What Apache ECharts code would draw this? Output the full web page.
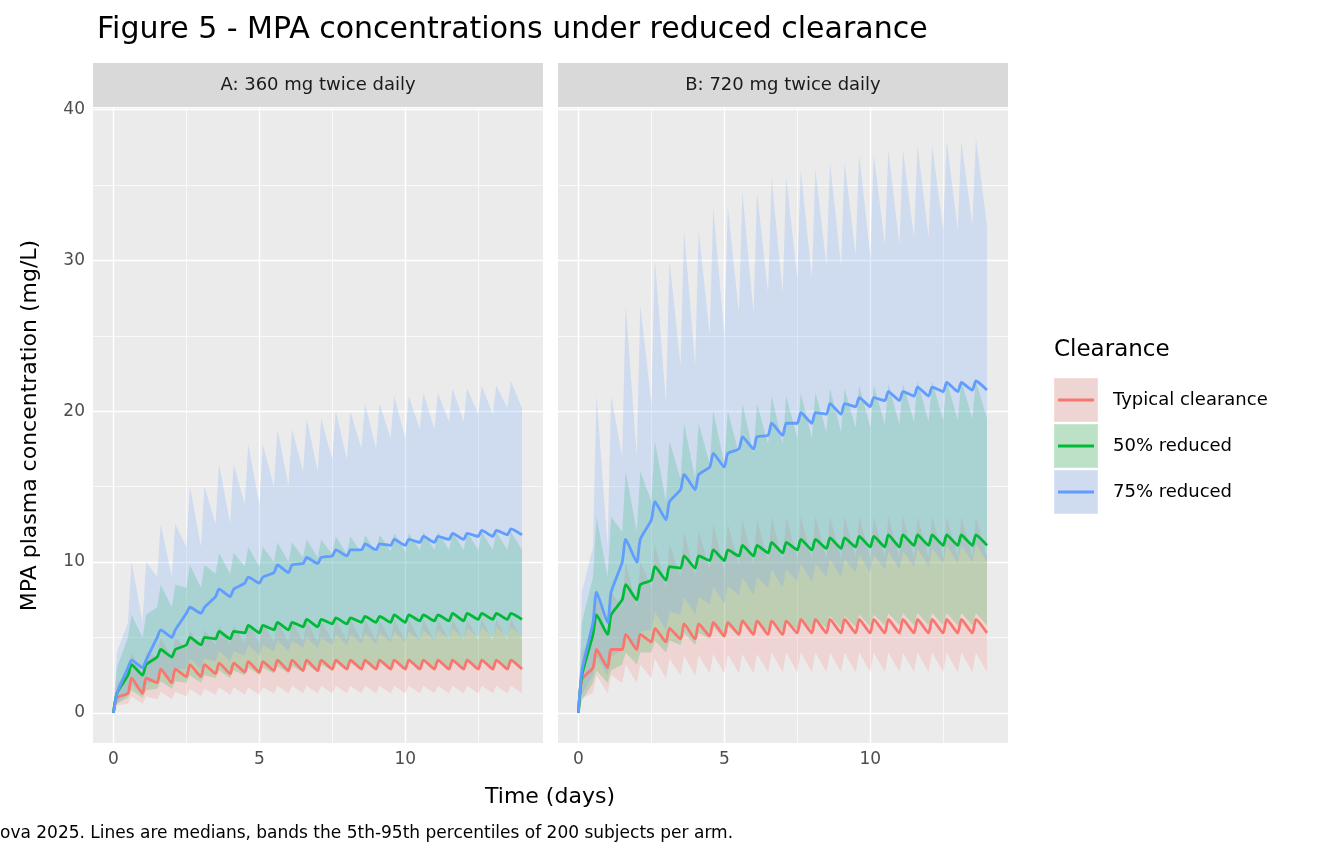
<!DOCTYPE html>
<html>
<head>
<meta charset="utf-8">
<title>Figure 5</title>
<script src="https://cdn.jsdelivr.net/npm/echarts@6/dist/echarts.min.js"></script>
</head>
<body style="margin:0">
<div id="main" style="width:1344px;height:864px;"></div>
<script>
// per-day values (day 0..14): troughs (pre-dose) and post-dose peaks
var groups = ['Typical clearance', '50% reduced', '75% reduced'];
var colors = ['#F8766D', '#00BA38', '#619CFF'];
var fills = ['rgba(248,118,109,0.2)', 'rgba(0,186,56,0.2)', 'rgba(97,156,255,0.2)'];
var panels = ['A: 360 mg twice daily', 'B: 720 mg twice daily'];

// Panel A
var aTypMedT = [0,1.3,2.0,2.4,2.6,2.7,2.8,2.8,2.9,2.9,2.9,2.9,2.9,2.9,2.9];
var aTypMedP = [1.0,2.3,2.9,3.2,3.3,3.4,3.5,3.5,3.5,3.5,3.5,3.5,3.5,3.5,3.5];
var aTypLoT = [0,0.6,0.9,1.1,1.2,1.2,1.3,1.3,1.3,1.3,1.3,1.3,1.3,1.3,1.3];
var aTypLoP = [0.5,1.1,1.4,1.6,1.7,1.7,1.8,1.8,1.8,1.8,1.8,1.8,1.8,1.8,1.8];
var aTypHiT = [0,2.5,3.7,4.2,4.5,4.6,4.7,4.7,4.8,4.8,4.8,4.8,4.8,4.8,4.8];
var aTypHiP = [2.0,4.0,5.0,5.5,5.8,6.0,6.1,6.1,6.2,6.2,6.2,6.2,6.2,6.2,6.2];

var a50MedT = [0,2.5,3.7,4.5,4.9,5.3,5.5,5.7,5.9,6.0,6.0,6.1,6.1,6.2,6.2];
var a50MedP = [1.3,3.2,4.2,5.0,5.4,5.8,6.0,6.2,6.3,6.4,6.5,6.5,6.6,6.6,6.6];
var a50LoT = [0,1.0,1.6,2.0,2.3,2.5,2.6,2.7,2.8,2.8,2.9,2.9,2.9,2.9,2.9];
var a50LoP = [0.6,1.5,2.1,2.5,2.8,3.0,3.1,3.2,3.3,3.3,3.4,3.4,3.4,3.4,3.4];
var a50HiT = [0,5,7,8.3,9.2,9.7,10.0,10.3,10.5,10.6,10.7,10.8,10.8,10.8,10.8];
var a50HiP = [3,6.5,8.5,9.8,10.6,11.0,11.3,11.5,11.7,11.8,11.9,12,12,12,12];

var a75MedT = [0,3.0,5.0,6.6,7.7,8.6,9.3,9.9,10.4,10.8,11.1,11.3,11.5,11.7,11.8];
var a75MedP = [1.3,3.5,5.5,7.0,8.2,9.0,9.8,10.3,10.8,11.2,11.5,11.7,11.9,12.1,12.2];
var a75LoT = [0,1.2,2.2,2.9,3.4,3.8,4.1,4.3,4.5,4.6,4.7,4.8,4.9,5,5];
var a75LoP = [0.7,1.9,2.9,3.6,4.1,4.5,4.8,5.0,5.2,5.3,5.4,5.5,5.6,5.7,5.7];
var a75HiT = [0,6,9,11,12.5,13.8,15,16,16.8,17.5,18.2,18.8,19.3,19.8,20.2];
var a75HiP = [4,10,12.5,15,16.5,17.8,18.8,19.5,20.0,20.5,21,21.2,21.5,21.7,22];

// Panel B
var bTypMedT = [0,3.0,4.2,4.7,4.9,5.1,5.2,5.2,5.3,5.3,5.3,5.3,5.3,5.3,5.3];
var bTypMedP = [2.2,4.2,5.2,5.6,5.9,6.0,6.1,6.1,6.2,6.2,6.2,6.2,6.2,6.2,6.2];
var bTypLoT = [0,1.3,2.0,2.3,2.5,2.6,2.6,2.7,2.7,2.7,2.7,2.7,2.7,2.7,2.7];
var bTypLoP = [1.0,2.5,3.2,3.6,3.8,3.9,3.9,4.0,4.0,4.0,4.0,4.0,4.0,4.0,4.0];
var bTypHiT = [0,5,7,8.3,9,9.5,9.8,10,10.2,10.2,10.3,10.3,10.3,10.3,10.3];
var bTypHiP = [4,8,10,11.2,12,12.5,12.8,13,13,13,13,13,13,13,13];

var b50MedT = [0,5.2,7.5,8.8,9.6,10.1,10.4,10.6,10.8,10.9,11.0,11.0,11.1,11.1,11.1];
var b50MedP = [2.5,6.5,8.5,9.7,10.4,10.8,11.1,11.3,11.5,11.6,11.7,11.8,11.8,11.8,11.8];
var b50LoT = [0,2,3.2,4,4.5,4.9,5.2,5.4,5.5,5.6,5.7,5.8,5.8,5.8,5.8];
var b50LoP = [0.8,2.8,4.0,4.8,5.3,5.7,6.0,6.2,6.3,6.4,6.5,6.6,6.6,6.6,6.6];
var b50HiT = [0,9,12,14,15.5,16.5,17.2,17.8,18.2,18.6,18.9,19.1,19.3,19.4,19.5];
var b50HiP = [6,13,16,18,19.2,20,20.5,21,21.2,21.5,21.7,21.8,22,22,22];

var b75MedT = [0,6,10,12.8,14.8,16.3,17.5,18.4,19.2,19.8,20.3,20.7,21.0,21.3,21.4];
var b75MedP = [2.8,8,11.5,14,15.8,17.2,18.3,19.2,19.9,20.5,20.9,21.3,21.6,21.9,22.0];
var b75LoT = [0,2.5,4.2,5.5,6.5,7.2,7.8,8.3,8.7,9,9.3,9.5,9.7,9.9,10];
var b75LoP = [1.2,3.7,5.4,6.7,7.7,8.4,9.0,9.5,9.9,10.2,10.5,10.7,10.9,11.1,11.2];
var b75HiT = [0,11,17,20.5,23,25,26.5,27.8,28.8,29.6,30.3,31,31.5,32,32.3];
var b75HiP = [8,21,27,30,32,33.5,34.5,35.5,36,36.5,37,37.3,37.6,37.9,38.1];

// doses every 0.5 day; peak shortly after dose, trough just before next dose
function profile(tr, pk) {
    var pts = [[0, tr[0]]];
    for (var k = 0; k < 28; k++) {
        var t = k * 0.5;
        pts.push([t + 0.12, pk[Math.min(14, Math.ceil(t))]]);
        var tn = (k + 1) * 0.5;
        pts.push([tn, tr[Math.min(14, Math.ceil(tn))]]);
    }
    return pts;
}
function band(loT, loP, hiT, hiP) {
    var lo = profile(loT, loP), hi = profile(hiT, hiP);
    return lo.map(function (p, i) { return [p[0], p[1], hi[i][1]]; });
}

var panelData = [
    {
        med: [profile(aTypMedT, aTypMedP), profile(a50MedT, a50MedP), profile(a75MedT, a75MedP)],
        band: [band(aTypLoT, aTypLoP, aTypHiT, aTypHiP), band(a50LoT, a50LoP, a50HiT, a50HiP), band(a75LoT, a75LoP, a75HiT, a75HiP)]
    },
    {
        med: [profile(bTypMedT, bTypMedP), profile(b50MedT, b50MedP), profile(b75MedT, b75MedP)],
        band: [band(bTypLoT, bTypLoP, bTypHiT, bTypHiP), band(b50LoT, b50LoP, b50HiT, b50HiP), band(b75LoT, b75LoP, b75HiT, b75HiP)]
    }
];

var gridLeft = [93, 558], gridW = 450;
var txt = '#4D4D4D';
var font = 'DejaVu Sans';

var grids = [], xAxes = [], yAxes = [], series = [], graphics = [];
for (var p = 0; p < 2; p++) {
    grids.push({left: gridLeft[p], width: gridW, top: 108, height: 635, show: true,
        backgroundColor: '#EBEBEB', borderWidth: 0});
    xAxes.push({type: 'value', gridIndex: p, min: -0.7, max: 14.72,
        splitLine: {show: false}, axisLine: {show: false},
        axisTick: {show: true, length: 4, lineStyle: {color: '#333'}, customValues: [0, 5, 10]},
        axisLabel: {color: txt, fontSize: 17, fontFamily: font, margin: 8, customValues: [0, 5, 10]}});
    yAxes.push({type: 'value', gridIndex: p, min: -2, max: 40.1,
        splitLine: {show: false}, axisLine: {show: false},
        axisTick: {show: p === 0, length: 4, lineStyle: {color: '#333'}, customValues: [0, 10, 20, 30, 40]},
        axisLabel: {show: p === 0, color: txt, fontSize: 17, fontFamily: font, customValues: [0, 10, 20, 30, 40]},
        name: p === 0 ? 'MPA plasma concentration (mg/L)' : '', nameLocation: 'middle', nameGap: 52,
        nameTextStyle: {fontSize: 22, color: '#000', fontFamily: font}});

    var major = {lineStyle: {color: '#fff', width: 1.4, type: 'solid'}};
    var minor = {lineStyle: {color: '#fff', width: 0.7, type: 'solid'}};
    var ml = [];
    [0, 5, 10].forEach(function (v) { ml.push(Object.assign({xAxis: v}, major)); });
    [2.5, 7.5, 12.5].forEach(function (v) { ml.push(Object.assign({xAxis: v}, minor)); });
    [0, 10, 20, 30, 40].forEach(function (v) { ml.push(Object.assign({yAxis: v}, major)); });
    [5, 15, 25, 35].forEach(function (v) { ml.push(Object.assign({yAxis: v}, minor)); });

    for (var g = 0; g < 3; g++) {
        (function (pts, fill, first) {
            series.push({
                type: 'custom', xAxisIndex: p, yAxisIndex: p, silent: true, z: 2,
                data: pts, encode: {x: 0, y: [1, 2]},
                renderItem: function (params, api) {
                    if (params.dataIndex !== 0) return;
                    var poly = [];
                    pts.forEach(function (d) { poly.push(api.coord([d[0], d[1]])); });
                    for (var i = pts.length - 1; i >= 0; i--) poly.push(api.coord([pts[i][0], pts[i][2]]));
                    return {type: 'polygon', shape: {points: poly}, style: {fill: fill}};
                },
                markLine: first ? {silent: true, symbol: 'none', label: {show: false}, data: ml, z: 1} : undefined
            });
        })(panelData[p].band[g], fills[g], g === 0);
    }
    for (var g2 = 0; g2 < 3; g2++) {
        series.push({type: 'line', xAxisIndex: p, yAxisIndex: p, showSymbol: false, z: 3, smooth: 0.2,
            data: panelData[p].med[g2], lineStyle: {color: colors[g2], width: 2.8}, itemStyle: {color: colors[g2]}});
    }
    graphics.push({type: 'rect', shape: {x: gridLeft[p], y: 63, width: gridW, height: 44}, style: {fill: '#D9D9D9'}});
    graphics.push({type: 'text', x: gridLeft[p] + gridW / 2, y: 85,
        style: {text: panels[p], fill: '#1A1A1A', fontSize: 18, fontFamily: font, align: 'center', verticalAlign: 'middle'}});
}

graphics.push({type: 'text', x: 550, y: 797, style: {text: 'Time (days)', fill: '#000', fontSize: 22, fontFamily: font, align: 'center', verticalAlign: 'middle'}});
graphics.push({type: 'text', x: 0, y: 834, style: {text: 'ova 2025. Lines are medians, bands the 5th-95th percentiles of 200 subjects per arm.', fill: '#000', fontSize: 17, fontFamily: font, verticalAlign: 'middle'}});
graphics.push({type: 'text', x: 1054, y: 350, style: {text: 'Clearance', fill: '#000', fontSize: 23, fontFamily: font, verticalAlign: 'middle'}});
for (var i = 0; i < 3; i++) {
    var yy = 378 + i * 46;
    graphics.push({type: 'rect', shape: {x: 1054, y: yy, width: 44, height: 44}, style: {fill: '#EBEBEB', stroke: '#fff', lineWidth: 1}});
    graphics.push({type: 'rect', shape: {x: 1054, y: yy, width: 44, height: 44}, style: {fill: fills[i]}});
    graphics.push({type: 'line', shape: {x1: 1058, y1: yy + 22, x2: 1094, y2: yy + 22}, style: {stroke: colors[i], lineWidth: 2.8}});
    graphics.push({type: 'text', x: 1113, y: yy + 22, style: {text: groups[i], fill: '#000', fontSize: 18, fontFamily: font, verticalAlign: 'middle'}});
}

var myChart = echarts.init(document.getElementById('main'));
myChart.setOption({
    animation: false,
    backgroundColor: '#fff',
    title: {text: 'Figure 5 - MPA concentrations under reduced clearance', left: 92, top: 10,
        textStyle: {fontSize: 30, fontWeight: 'normal', color: '#000', fontFamily: font}},
    grid: grids, xAxis: xAxes, yAxis: yAxes, series: series, graphic: graphics
});
</script>
</body>
</html>
